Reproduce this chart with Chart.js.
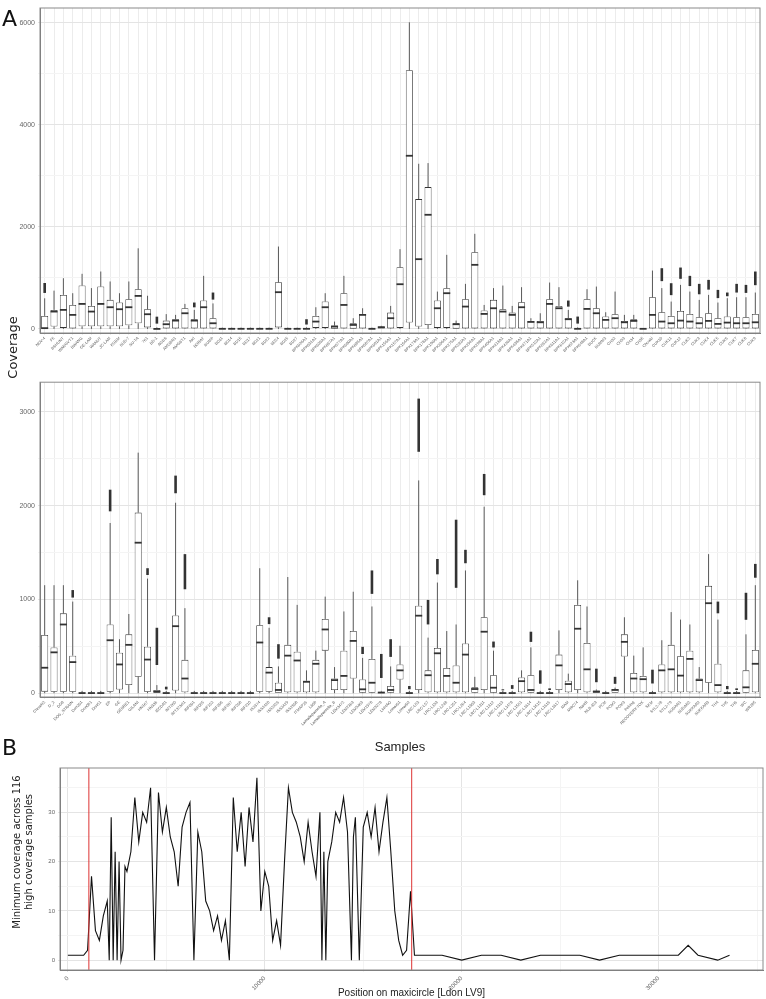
<!DOCTYPE html>
<html lang="en">
<head>
<meta charset="UTF-8">
<title>Coverage</title>
<script src="https://cdn.jsdelivr.net/npm/chart.js"></script>
<style>
    body { margin: 0; background: #fff; font-family: 'DejaVu Sans', sans-serif; }
    .wrap { position: relative; width: 766px; height: 999px; }
    .box { position: absolute; left: 0; }
    .tag { position: absolute; font-size: 22px; color: #111; }
    .ytitle { position: absolute; transform: rotate(-90deg); transform-origin: center; white-space: nowrap; text-align: center; color: #222; }
</style>
</head>
<body>
<div class="wrap">
    <div class="box" style="top:0;width:766px;height:375px"><canvas id="top"></canvas></div>
    <div class="box" style="top:375px;width:766px;height:380px"><canvas id="bottom"></canvas></div>
    <div class="box" style="top:752px;width:766px;height:247px"><canvas id="line"></canvas></div>
    <div class="tag" style="left:2px;top:6px">A</div>
    <div class="tag" style="left:2px;top:735px">B</div>
    <div class="ytitle" style="left:-38px;top:340px;width:100px;font-size:13px">Coverage</div>
    <div class="ytitle" style="left:-77px;top:840px;width:200px;font-size:10px;line-height:12px">Minimum coverage across 116<br>high coverage samples</div>
</div>
<script>
// ---- panel A, top: samples and box stats (q1, median, q3, hi whisker, outlier top)
const samplesTop = ['NDV-4','F5','BSHUNT','WANGVT1','BWANG','GE-LAM','WANUT','JC-LAM','KGBM','SUD-7','SU-TA','761','BD-1','AGBS','AMGBN1','AMGBT1','AKI','BORAT','BUMP','BD11','BD14','BD15','BD17','BD21','BD22','BD24','BD25','BD27',
    'BPK026A1','BPK031A1','BPK035A1','BPK067A1','BPK077A1','BPK080A1','BPK085A1','BPK087A1','BPK091A1','BPK156A1','BPK157A1','BPK164A1','BPK173A1','BPK178A1','BPK190A1','BPK206A1','BPK275A1','BPK282A1','BPK294A1','BPK298A1','BPK406A1','BPK413A1','BPK426A1','BPK438A1','BPK471A1','BPK512A1','BPK562A1','BPK611A1','BPK612A1','BPK623A1','BPK648A1',
    'BUCK','BUMM3','CH32','CH33','CH34','CH35','Chowki','CUK10','CUK11','CUK12','CUK2','CUK3','CUK4','CUK5','CUK6','CUK7','CUK8','CUK9'];
const q1Top = [5,46,20,10,50,50,50,50,50,70,110,30,0,10,10,10,10,10,10,0,0,0,0,0,0,30,0,0,0,20,20,5,10,5,10,0,0,10,20,124,46,78,20,20,5,10,10,10,10,10,10,10,10,10,10,10,10,0,10,10,10,10,10,10,0,10,10,10,10,10,10,10,10,10,10,10,10];
const medTop = [15,340,373,275,490,340,490,425,386,425,647,288,0,92,163,307,163,425,111,2,2,2,2,2,2,720,2,2,2,144,425,46,470,78,275,2,33,210,876,3394,1367,2237,405,700,92,438,1256,294,405,340,275,425,137,130,490,405,190,2,392,307,177,210,130,157,2,275,144,111,163,144,111,157,98,124,111,111,130];
const q3Top = [255,373,667,470,850,451,830,570,517,582,778,386,10,163,190,405,190,556,210,8,8,8,8,8,8,915,8,8,10,255,536,65,700,111,294,8,46,320,1210,5069,2544,2780,556,798,111,582,1504,360,570,386,320,523,157,157,582,451,210,8,582,405,242,288,157,190,8,621,327,255,353,294,229,307,210,242,229,229,294];
const hiTop = [600,750,994,700,1080,800,1125,930,700,930,1580,650,30,290,275,490,373,1040,500,25,25,25,25,25,25,1615,25,25,30,425,700,144,1040,210,405,25,60,451,1563,6010,3237,3250,732,1452,163,883,1864,470,800,850,451,818,210,307,909,818,373,30,778,830,327,732,275,275,10,1144,800,536,863,732,569,667,517,602,621,621,713];
const outTop = [900,null,null,null,null,null,null,null,null,null,null,null,240,null,null,null,517,null,713,null,null,null,null,null,null,null,null,null,190,null,null,null,null,null,null,null,null,null,null,null,null,null,null,null,null,null,null,null,null,null,null,null,null,null,null,null,556,242,null,null,null,null,null,null,null,null,1190,896,1203,1040,883,961,765,713,883,863,1125];

// ---- panel A, bottom
const samplesBottom = ['Chowki2','D_2','DD8','DOG_STRAIN','Don201','Don081','Don51','EP','GE','GEBRE1','GILANI','HN167','HN336','IECDR1','IMT260','IMT373cl1','INF001','INF055','INF152','INF206','INF207','INF208','INF210','IS2374','ISS2420','ISS2426','ISS2429','ISS2508','ITMAP26','L60b','Lamallepamella_A','Lamallepamella_B','LEM3472','LEM2363','LEM3463','LEM1978','LEM3278','LinHAO','Lemar01','Lemar02',
    'LRC-L53','LRC-L57','LRC-L133','LRC-L248','LRC-L251','LRC-L264','LRC-L1303','LRC-L1311','LRC-L1312','LRC-L1313','LRC-L1478','LRC-L1551','LRC-L1614','LRC-L1615','LRC-L1616','LRC-L1617',
    'MAM','MRC74','Nandi','NLB-323','PCM','PCM2','PCM3','Peking','RECOVERY-TOX','SKM','STL2-78','STL2-79','SUDAN1','SUDAN2','SUKKAR2','SUKKAR3','TH4','TH5','TH6','WC','WR285'];
const q1Bottom = [17,15,15,15,0,0,0,15,40,87,175,15,0,0,30,10,0,0,0,0,0,0,0,15,15,0,10,10,10,10,454,35,35,157,5,5,0,5,147,0,35,10,10,10,10,10,5,35,5,0,0,10,5,0,0,35,10,35,10,0,0,0,391,10,10,0,10,10,10,10,10,112,10,0,0,5,10];
const medBottom = [272,436,733,332,2,2,2,565,307,516,1605,359,17,2,715,157,2,2,2,2,2,2,2,541,220,35,401,349,122,314,680,140,185,558,42,112,7,35,244,2,827,192,426,185,112,412,45,656,59,2,2,129,35,2,2,297,98,688,255,17,2,35,548,157,150,2,244,255,188,366,140,960,87,2,2,63,314];
const q3Bottom = [621,489,852,401,8,8,8,733,433,628,1926,496,35,8,830,356,8,8,8,8,8,8,8,726,279,112,516,443,133,356,792,157,454,663,147,366,17,77,307,8,932,244,482,269,297,530,63,810,192,8,8,168,192,8,8,412,133,942,537,28,8,45,628,216,185,8,307,516,394,454,157,1145,314,8,8,244,461];
const hiBottom = [1152,1152,1152,977,25,25,25,1815,576,845,2565,1222,87,25,2031,907,25,25,25,25,25,25,25,1333,698,286,1239,942,244,454,1030,279,872,1082,377,925,25,286,506,25,2269,593,1180,663,733,1309,175,1989,454,25,25,244,489,25,25,670,209,1204,925,40,25,60,810,401,489,25,565,865,785,733,279,1483,785,25,25,628,1152];
const outBottom = [null,null,null,1100,null,null,null,2170,null,null,null,1333,698,70,2320,1483,null,null,null,null,null,null,null,null,810,523,null,null,null,null,null,null,null,null,495,1309,419,576,null,77,3141,995,1431,null,1850,1529,null,2338,551,42,87,null,656,244,52,null,null,null,null,262,null,175,null,null,null,251,null,null,null,null,null,null,977,77,52,1071,1379];

// ---- panel B: position (bp) and minimum coverage
const posB = [0,200,400,600,800,1000,1200,1400,1600,1800,2000,2100,2200,2300,2400,2500,2600,2700,2800,2900,3000,3200,3400,3600,3800,4000,4200,4400,4600,4800,5000,5200,5400,5600,5800,6000,6200,6400,6600,6800,7000,7200,7400,7600,7800,8000,8200,8400,8600,8800,9000,9200,9400,9600,9800,10000,10200,10400,10600,10800,11000,11200,11400,11600,11800,12000,12200,12400,12600,12800,12900,13000,13100,13200,13400,13600,13800,14000,14200,14400,14500,14600,14800,15000,15200,15400,15600,15800,16000,16200,16400,16600,16800,17000,17200,17400,17600,18000,19000,20000,21000,22000,23000,24000,25000,26000,27000,28000,29000,30000,31000,31500,32000,33000,33600];
const covB = [1,1,1,1,1,2,17,6,4,9,12,0,29,0,22,0,20,0,2,19,18,22,33,24,30,28,35,0,34,26,31,25,22,15,27,30,32,0,26,22,12,10,6,9,4,8,0,33,22,30,19,31,24,37,10,18,15,4,8,3,20,35,30,28,25,20,28,22,17,30,0,22,0,20,24,30,28,33,26,0,25,29,0,27,30,25,31,22,28,33,22,10,4,1,2,14,1,1,1,0,1,1,0,1,1,1,0,1,1,1,1,3,1,0,1];
const redLines = [1066, 17460];

const fixedTicks = list => s => { s.ticks = list.map(v => ({ value: v })); };

// grey frame around each panel, like theme_bw
const framePlugin = {
    id: 'frame',
    afterDraw(chart) {
        const { ctx, chartArea: a } = chart;
        ctx.save();
        ctx.strokeStyle = '#8a8a8a';
        ctx.lineWidth = 1;
        ctx.strokeRect(a.left, a.top, a.right - a.left, a.bottom - a.top);
        ctx.restore();
    }
};

// box plot marks drawn on top of the floating IQR bars, positioned via the chart scales
function boxPlugin(med, hi, out) {
    return {
        id: 'boxes',
        afterDatasetsDraw(chart) {
            const { ctx, scales: { x, y } } = chart;
            const meta = chart.getDatasetMeta(0);
            ctx.save();
            ctx.strokeStyle = '#333';
            meta.data.forEach((bar, i) => {
                const px = x.getPixelForValue(i);
                const w = bar.width;
                const ds = chart.data.datasets[0].data[i];
                ctx.lineWidth = 0.8;
                ctx.beginPath();
                ctx.moveTo(px, y.getPixelForValue(ds[1]));
                ctx.lineTo(px, y.getPixelForValue(hi[i]));
                ctx.moveTo(px, y.getPixelForValue(ds[0]));
                ctx.lineTo(px, y.getPixelForValue(0));
                ctx.stroke();
                ctx.lineWidth = 1.8;
                ctx.beginPath();
                ctx.moveTo(px - w / 2, y.getPixelForValue(med[i]));
                ctx.lineTo(px + w / 2, y.getPixelForValue(med[i]));
                ctx.stroke();
                if (out[i] != null) {
                    ctx.lineWidth = 2.6;
                    ctx.beginPath();
                    ctx.moveTo(px, y.getPixelForValue(hi[i] + (out[i] - hi[i]) * 0.35));
                    ctx.lineTo(px, y.getPixelForValue(out[i]));
                    ctx.stroke();
                }
            });
            ctx.restore();
        }
    };
}

function boxChart(id, labels, q1, med, q3, hi, out, yMin, yMax, yTicks, majorEvery, xHeight, title) {
    new Chart(document.getElementById(id), {
        type: 'bar',
        data: {
            labels: labels,
            datasets: [{
                data: q1.map((v, i) => [v, q3[i]]),
                backgroundColor: '#ffffff',
                borderColor: '#333',
                borderWidth: 0.8,
                borderSkipped: false,
                barPercentage: 0.75,
                categoryPercentage: 1
            }]
        },
        options: {
            responsive: true,
            maintainAspectRatio: false,
            animation: false,
            layout: { padding: { top: id === 'top' ? 8 : 5, right: 6 } },
            plugins: { legend: { display: false }, tooltip: { enabled: false } },
            scales: {
                x: {
                    grid: { color: '#ececec', offset: false, tickLength: 2 },
                    border: { color: '#777' },
                    ticks: { autoSkip: false, minRotation: 45, maxRotation: 45, font: { size: 4 }, color: '#555', padding: 1 },
                    title: { display: !!title, text: title, font: { size: 13 }, color: '#222', padding: 0 },
                    afterFit: s => { s.height = xHeight; }
                },
                y: {
                    min: yMin, max: yMax,
                    grid: { color: ctx => ctx.tick.value % majorEvery === 0 ? '#e4e4e4' : '#f4f4f4', tickLength: 2 },
                    border: { color: '#777' },
                    ticks: {
                        autoSkip: false, font: { size: 7 }, color: '#666',
                        callback: v => v % majorEvery === 0 ? String(v) : ''
                    },
                    afterBuildTicks: fixedTicks(yTicks),
                    afterFit: s => { s.width = 40; }
                }
            }
        },
        plugins: [boxPlugin(med, hi, out), framePlugin]
    });
}

boxChart('top', samplesTop, q1Top, medTop, q3Top, hiTop, outTop, -80, 6290, [0,1000,2000,3000,4000,5000,6000], 2000, 42, '');
boxChart('bottom', samplesBottom, q1Bottom, medBottom, q3Bottom, hiBottom, outBottom, -40, 3316, [0,500,1000,1500,2000,2500,3000], 1000, 58, 'Samples');

new Chart(document.getElementById('line'), {
    type: 'line',
    data: {
        datasets: [{
            data: posB.map((p, i) => ({ x: p, y: covB[i] })),
            borderColor: '#111',
            borderWidth: 1.1,
            pointRadius: 0,
            tension: 0
        }]
    },
    options: {
        responsive: true,
        maintainAspectRatio: false,
        animation: false,
        layout: { padding: { top: 16, right: 3 } },
        plugins: { legend: { display: false }, tooltip: { enabled: false } },
        scales: {
            x: {
                type: 'linear', min: -400, max: 35300,
                grid: { color: ctx => ctx.tick.value % 10000 === 0 ? '#e4e4e4' : '#f4f4f4', tickLength: 2 },
                border: { color: '#777' },
                ticks: { autoSkip: false, minRotation: 45, maxRotation: 45, font: { size: 6 }, color: '#666',
                    callback: v => v % 10000 === 0 ? String(v) : '' },
                afterBuildTicks: fixedTicks([0,5000,10000,15000,20000,25000,30000,35000]),
                title: { display: true, text: 'Position on maxicircle [Ldon LV9]', font: { size: 10 }, color: '#222', padding: 0 },
                afterFit: s => { s.height = 29; }
            },
            y: {
                min: -2, max: 39,
                grid: { color: ctx => ctx.tick.value % 10 === 0 ? '#e4e4e4' : '#f4f4f4', tickLength: 2 },
                border: { color: '#777' },
                ticks: { autoSkip: false, font: { size: 6 }, color: '#666', callback: v => v % 10 === 0 ? String(v) : '' },
                afterBuildTicks: fixedTicks([0,5,10,15,20,25,30,35]),
                afterFit: s => { s.width = 60; }
            }
        }
    },
    plugins: [{
        id: 'redLines',
        afterDatasetsDraw(chart) {
            const { ctx, chartArea, scales: { x } } = chart;
            ctx.save();
            ctx.strokeStyle = '#d33';
            ctx.lineWidth = 1;
            redLines.forEach(p => {
                const px = x.getPixelForValue(p);
                ctx.beginPath();
                ctx.moveTo(px, chartArea.top);
                ctx.lineTo(px, chartArea.bottom);
                ctx.stroke();
            });
            ctx.restore();
        }
    }, framePlugin]
});
</script>
</body>
</html>
